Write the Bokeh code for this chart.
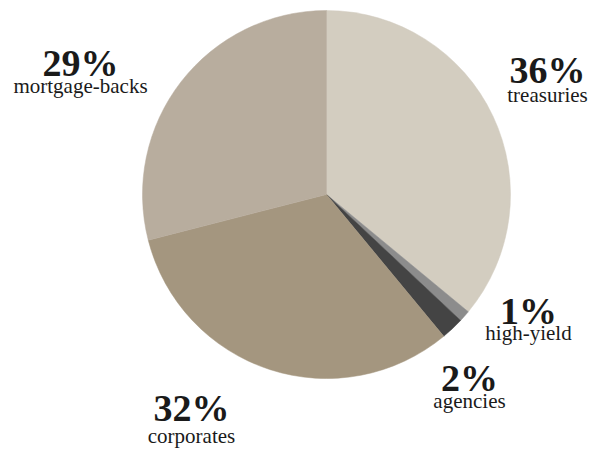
import numpy as np
from bokeh.plotting import figure
from bokeh.models import Range1d, ColumnDataSource
from bokeh.core.properties import value
from bokeh.embed import file_html
from bokeh.resources import INLINE

# Data (clockwise from 12 o'clock)
categories = ["treasuries", "high-yield", "agencies", "corporates", "mortgage-backs"]
shares = [36, 1, 2, 32, 29]
pct_labels = ["36%", "1%", "2%", "32%", "29%"]
colors = ["#d3cdc0", "#8c8c8c", "#444444", "#a4967f", "#b8ad9e"]

# Label anchor positions (page pixels)
label_x = [547, 528, 469, 191, 80]
pct_y = [69, 310, 377, 407, 62]
name_y = [94, 332, 400, 435, 85]

W, H = 598, 450
p = figure(width=W, height=H, output_backend="svg", toolbar_location=None,
           x_range=Range1d(0, W), y_range=Range1d(0, H),
           min_border=0)
p.axis.visible = False
p.grid.visible = False
p.outline_line_color = None
p.background_fill_color = "white"

vals = np.array(shares, dtype=float)
frac = vals / vals.sum()
ends = np.cumsum(frac) * 2 * np.pi
starts = np.concatenate([[0.0], ends[:-1]])
src = ColumnDataSource(dict(
    start=np.pi / 2 - starts, end=np.pi / 2 - ends, color=colors, cat=categories))
cx, cy, r = 326, 450 - 194, 184
p.wedge(x=cx, y=cy, radius=r, start_angle="start", end_angle="end",
        direction="clock", fill_color="color", line_color="color", line_width=0.5,
        source=src)

lsrc = ColumnDataSource(dict(
    x=label_x, py=[450 - v for v in pct_y], ny=[450 - v for v in name_y],
    pct=pct_labels, name=categories))
p.text(x="x", y="py", text="pct", source=lsrc, text_align="center",
       text_baseline="alphabetic", text_font=value("Liberation Serif"),
       text_font_style="bold", text_font_size="38px", text_color="#1a1a1a")
p.text(x="x", y="ny", text="name", source=lsrc, text_align="center",
       text_baseline="alphabetic", text_font=value("Liberation Serif"),
       text_font_size="21px", text_color="#1a1a1a")

open("out.html", "w").write(file_html(p, INLINE))
